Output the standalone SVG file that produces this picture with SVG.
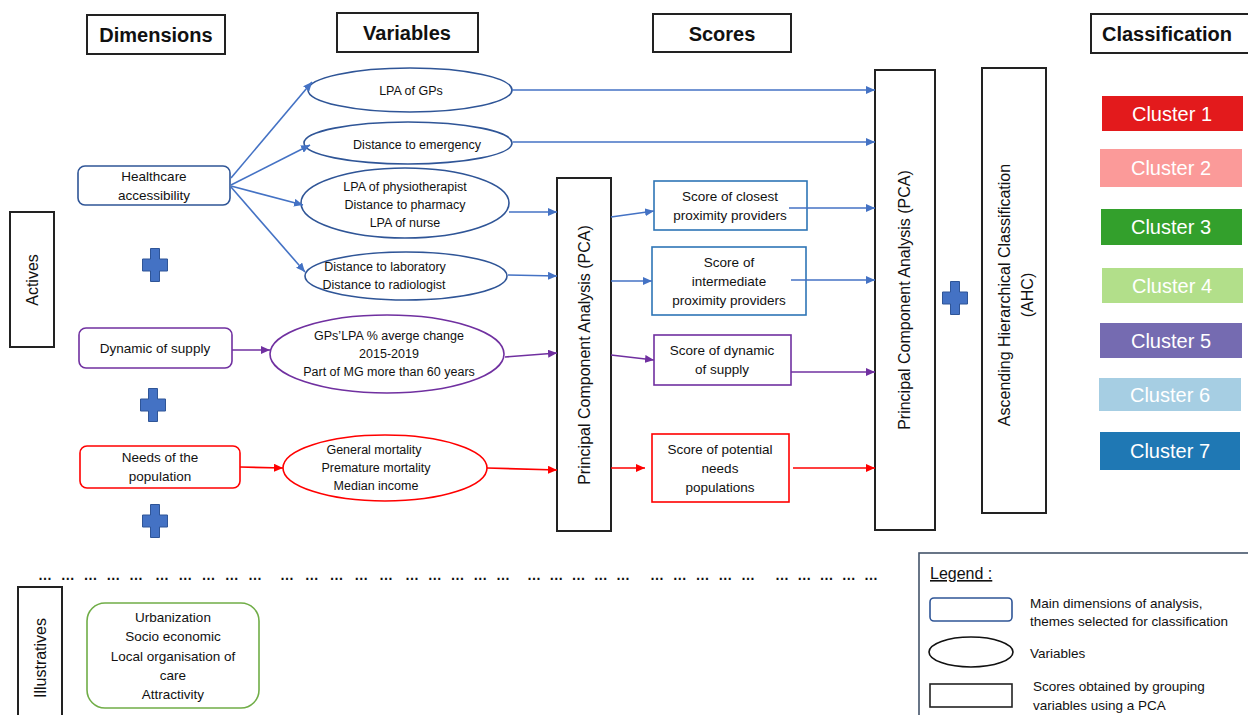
<svg xmlns="http://www.w3.org/2000/svg" width="1248" height="715" viewBox="0 0 1248 715">
<style>
text{font-family:"Liberation Sans",Arial,sans-serif;fill:#111;}
.hdr{font-size:20px;font-weight:bold;text-anchor:middle;}
.hbox{fill:#fff;stroke:#222;stroke-width:2;}
.t{font-size:13.5px;text-anchor:middle;}
.v{font-size:12.5px;text-anchor:middle;}
.rot{font-size:16px;text-anchor:middle;}
.blk{fill:#fff;stroke:#222;stroke-width:2;}
.cl{font-size:20px;fill:#fff;text-anchor:middle;}
.cb{fill:none;stroke:#4472C4;stroke-width:1.6;marker-end:url(#ab);}
.cp{fill:none;stroke:#7030A0;stroke-width:1.6;marker-end:url(#ap);}
.cr{fill:none;stroke:#FF0000;stroke-width:1.6;marker-end:url(#ar);}
.plus{fill:#4472C4;stroke:#2F5597;stroke-width:1;}
.dots{font-size:14px;font-weight:bold;}
.lg{font-size:13.5px;}
</style>
<defs>
<marker id="ab" viewBox="0 0 9 8" refX="9" refY="4" markerWidth="9" markerHeight="8" markerUnits="userSpaceOnUse" orient="auto"><path d="M0,0 L9,4 L0,8 z" fill="#4472C4"/></marker>
<marker id="ap" viewBox="0 0 9 8" refX="9" refY="4" markerWidth="9" markerHeight="8" markerUnits="userSpaceOnUse" orient="auto"><path d="M0,0 L9,4 L0,8 z" fill="#7030A0"/></marker>
<marker id="ar" viewBox="0 0 9 8" refX="9" refY="4" markerWidth="9" markerHeight="8" markerUnits="userSpaceOnUse" orient="auto"><path d="M0,0 L9,4 L0,8 z" fill="#FF0000"/></marker>
<path id="plus" d="M-4.5,-16.5 H4.5 V-6 H12.5 V6 H4.5 V16.5 H-4.5 V6 H-12.5 V-6 H-4.5 Z"/>
</defs>
<rect width="1248" height="715" fill="#fff"/>

<g id="headers">
<rect class="hbox" x="87" y="15" width="138" height="39"/>
<text class="hdr" x="156" y="42">Dimensions</text>
<rect class="hbox" x="337" y="13" width="141" height="39"/>
<text class="hdr" x="407" y="40">Variables</text>
<rect class="hbox" x="653" y="14" width="138" height="38"/>
<text class="hdr" x="722" y="41">Scores</text>
<rect class="hbox" x="1091" y="14" width="160" height="39"/>
<text class="hdr" x="1167" y="41">Classification</text>
</g>

<g id="actives">
<rect class="blk" x="10" y="212" width="44" height="135"/>
<text class="rot" transform="translate(38,280) rotate(-90)">Actives</text>
</g>

<g id="illustratives">
<rect class="blk" x="18" y="587" width="44" height="140"/>
<text class="rot" transform="translate(46,658) rotate(-90)">Illustratives</text>
</g>

<g id="healthcare">
<rect x="78" y="166" width="152" height="39" rx="7" fill="#fff" stroke="#2F5597" stroke-width="1.6"/>
<text class="t" x="154" y="181">Healthcare</text>
<text class="t" x="154" y="200">accessibility</text>
</g>
<g id="dynamic">
<rect x="79" y="328" width="153" height="40" rx="7" fill="#fff" stroke="#7030A0" stroke-width="1.6"/>
<text class="t" x="155" y="353">Dynamic of supply</text>
</g>
<g id="needs">
<rect x="80" y="446" width="160" height="42" rx="7" fill="#fff" stroke="#FF0000" stroke-width="1.6"/>
<text class="t" x="160" y="462">Needs of the</text>
<text class="t" x="160" y="481">population</text>
</g>

<g id="plus-signs" class="plus">
<use href="#plus" x="155" y="265"/>
<use href="#plus" x="153" y="405"/>
<use href="#plus" x="155" y="521"/>
<use href="#plus" x="955" y="298"/>
</g>

<g id="var-gps">
<ellipse cx="410" cy="90" rx="102" ry="22" fill="#fff" stroke="#2F5597" stroke-width="1.6"/>
<text class="v" x="411" y="95">LPA of GPs</text>
</g>
<g id="var-emergency">
<ellipse cx="408" cy="143" rx="104" ry="21" fill="#fff" stroke="#2F5597" stroke-width="1.6"/>
<text class="v" x="417" y="149">Distance to emergency</text>
</g>
<g id="var-physio">
<ellipse cx="405" cy="203" rx="104" ry="35" fill="#fff" stroke="#2F5597" stroke-width="1.6"/>
<text class="v" x="405" y="191">LPA of physiotherapist</text>
<text class="v" x="405" y="209">Distance to pharmacy</text>
<text class="v" x="405" y="227">LPA of nurse</text>
</g>
<g id="var-lab">
<ellipse cx="406" cy="276" rx="101" ry="24" fill="#fff" stroke="#2F5597" stroke-width="1.6"/>
<text class="v" x="385" y="271">Distance to laboratory</text>
<text class="v" x="384" y="289">Distance to radiologist</text>
</g>
<g id="var-dynamic">
<ellipse cx="387" cy="354" rx="117" ry="39" fill="#fff" stroke="#7030A0" stroke-width="1.6"/>
<text class="v" x="389" y="340">GPs’LPA % averge change</text>
<text class="v" x="389" y="358">2015-2019</text>
<text class="v" x="389" y="376">Part of MG more than 60 years</text>
</g>
<g id="var-needs">
<ellipse cx="385" cy="468" rx="102" ry="33" fill="#fff" stroke="#FF0000" stroke-width="1.6"/>
<text class="v" x="374" y="454">General mortality</text>
<text class="v" x="376" y="472">Premature mortality</text>
<text class="v" x="376" y="490">Median income</text>
</g>

<g id="pca1">
<rect class="blk" x="557" y="178" width="54" height="353"/>
<text class="rot" transform="translate(590,355) rotate(-90)">Principal Component Analysis (PCA)</text>
</g>

<g id="score-closest">
<rect x="654" y="181" width="153" height="49" fill="#fff" stroke="#2E75B6" stroke-width="1.6"/>
<text class="t" x="730" y="201">Score of closest</text>
<text class="t" x="730" y="220">proximity providers</text>
</g>
<g id="score-intermediate">
<rect x="652" y="247" width="154" height="68" fill="#fff" stroke="#2E75B6" stroke-width="1.6"/>
<text class="t" x="729" y="267">Score of</text>
<text class="t" x="729" y="286">intermediate</text>
<text class="t" x="729" y="305">proximity providers</text>
</g>
<g id="score-dynamic">
<rect x="654" y="335" width="137" height="50" fill="#fff" stroke="#7030A0" stroke-width="1.6"/>
<text class="t" x="722" y="355">Score of dynamic</text>
<text class="t" x="722" y="374">of supply</text>
</g>
<g id="score-needs">
<rect x="652" y="434" width="137" height="68" fill="#fff" stroke="#FF0000" stroke-width="1.6"/>
<text class="t" x="720" y="454">Score of potential</text>
<text class="t" x="720" y="473">needs</text>
<text class="t" x="720" y="492">populations</text>
</g>

<g id="pca2">
<rect class="blk" x="875" y="70" width="60" height="460"/>
<text class="rot" transform="translate(910,300) rotate(-90)">Principal Component Analysis (PCA)</text>
</g>

<g id="ahc">
<rect class="blk" x="982" y="68" width="64" height="445"/>
<text class="rot" font-size="15.5" transform="translate(1010,295) rotate(-90)">Ascending Hierarchical Classification</text>
<text class="rot" font-size="15.5" transform="translate(1033,295) rotate(-90)">(AHC)</text>
</g>

<g id="clusters">
<rect x="1102" y="96" width="141" height="35" fill="#E31A1C"/>
<text class="cl" x="1172" y="121">Cluster 1</text>
<rect x="1100" y="149" width="142" height="38" fill="#FB9A99"/>
<text class="cl" x="1171" y="175">Cluster 2</text>
<rect x="1101" y="209" width="141" height="36" fill="#33A02C"/>
<text class="cl" x="1171" y="234">Cluster 3</text>
<rect x="1102" y="268" width="141" height="35" fill="#B2DF8A"/>
<text class="cl" x="1172" y="293">Cluster 4</text>
<rect x="1100" y="323" width="142" height="35" fill="#756BB1"/>
<text class="cl" x="1171" y="348">Cluster 5</text>
<rect x="1099" y="378" width="142" height="33" fill="#A6CEE3"/>
<text class="cl" x="1170" y="402">Cluster 6</text>
<rect x="1100" y="432" width="140" height="38" fill="#1F78B4"/>
<text class="cl" x="1170" y="458">Cluster 7</text>
</g>

<g id="connectors">
<path class="cb" d="M231,178 L312,82"/>
<path class="cb" d="M231,185 L310,145"/>
<path class="cb" d="M231,186 L303,205"/>
<path class="cb" d="M231,187 L305,272"/>
<path class="cb" d="M512,90 L875,90"/>
<path class="cb" d="M513,142 L875,142"/>
<path class="cb" d="M509,212 L557,212"/>
<path class="cb" d="M508,275 L557,276"/>
<path class="cb" d="M611,217 L654,211"/>
<path class="cb" d="M611,281 L652,281"/>
<path class="cb" d="M789,208 L875,208"/>
<path class="cb" d="M791,280 L875,280"/>
<path class="cp" d="M232,350 L270,350"/>
<path class="cp" d="M505,357 L557,353"/>
<path class="cp" d="M611,355 L654,360"/>
<path class="cp" d="M791,372 L875,372"/>
<path class="cr" d="M240,467 L283,468"/>
<path class="cr" d="M487,468 L557,470"/>
<path class="cr" d="M611,468 L645,468"/>
<path class="cr" d="M793,468 L875,468"/>
</g>

<g id="separator" class="dots">
<text x="38" y="580" textLength="105" lengthAdjust="spacing">… … … … …</text>
<text x="155" y="580" textLength="107" lengthAdjust="spacing">… … … … …</text>
<text x="280" y="580" textLength="113" lengthAdjust="spacing">… … … … …</text>
<text x="405" y="580" textLength="105" lengthAdjust="spacing">… … … … …</text>
<text x="527" y="580" textLength="103" lengthAdjust="spacing">… … … … …</text>
<text x="650" y="580" textLength="105" lengthAdjust="spacing">… … … … …</text>
<text x="775" y="580" textLength="103" lengthAdjust="spacing">… … … … …</text>
</g>

<g id="illustrative-vars">
<rect x="87" y="603" width="172" height="105" rx="18" fill="#fff" stroke="#70AD47" stroke-width="1.6"/>
<text class="t" x="173" y="622">Urbanization</text>
<text class="t" x="173" y="641">Socio economic</text>
<text class="t" x="173" y="661">Local organisation of</text>
<text class="t" x="173" y="680">care</text>
<text class="t" x="173" y="699">Attractivity</text>
</g>

<g id="legend">
<rect x="919" y="553" width="340" height="170" fill="#fff" stroke="#44546A" stroke-width="1.6"/>
<text x="930" y="579" font-size="16" text-decoration="underline">Legend :</text>
<rect x="930" y="598" width="82" height="23" rx="4" fill="#fff" stroke="#2F5597" stroke-width="1.6"/>
<text class="lg" x="1030" y="608">Main dimensions of analysis,</text>
<text class="lg" x="1030" y="626">themes selected for classification</text>
<ellipse cx="971" cy="652" rx="42" ry="15" fill="#fff" stroke="#111" stroke-width="1.6"/>
<text class="lg" x="1030" y="658">Variables</text>
<rect x="930" y="684" width="82" height="23" fill="#fff" stroke="#222" stroke-width="1.6"/>
<text class="lg" x="1033" y="691">Scores obtained by grouping</text>
<text class="lg" x="1033" y="710">variables using a PCA</text>
</g>
</svg>
